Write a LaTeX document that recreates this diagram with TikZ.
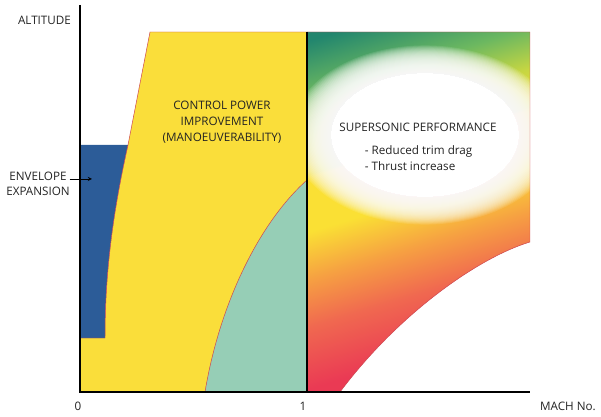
\documentclass[tikz,border=0pt]{standalone}
\usepackage{fontspec}
\setmainfont{Open Sans}

\definecolor{envblue}{RGB}{44,92,152}
\definecolor{ctrlyellow}{RGB}{250,222,58}
\definecolor{transteal}{RGB}{150,206,182}
\definecolor{edgered}{RGB}{205,70,80}
\definecolor{ssred}{RGB}{234,58,84}
\definecolor{sscoral}{RGB}{240,104,80}
\definecolor{ssorange}{RGB}{246,160,66}
\definecolor{ssyellow}{RGB}{250,224,52}
\definecolor{sslime}{RGB}{198,214,66}
\definecolor{ssgreen}{RGB}{108,184,96}
\definecolor{ssteal}{RGB}{34,134,110}
\definecolor{labelgray}{RGB}{35,35,35}

\pgfdeclareverticalshading{supershade}{100bp}{color(0bp)=(ssred); color(29bp)=(ssred);
  color(38bp)=(sscoral); color(45bp)=(ssorange); color(52bp)=(ssyellow); color(60bp)=(ssyellow);
  color(66bp)=(sslime); color(72bp)=(ssgreen); color(80bp)=(ssteal); color(100bp)=(ssteal)}

\begin{document}
\begin{tikzpicture}[x=.25mm,y=.25mm,line width=.35pt,font=\fontsize{8.3}{11.3}\selectfont,text=labelgray]
\useasboundingbox (-80,-24) rectangle (521,392);
\fill[ctrlyellow] (0,0)--(0,54)--(25,54) .. controls (25,120) and (33,180) .. (48,247)--(70,360)--(227,360)--(227,0)--cycle;
\fill[envblue] (0,54)--(25,54) .. controls (25,120) and (33,180) .. (48,247)--(0,247)--cycle;
\draw[edgered] (0,54)--(25,54) .. controls (25,120) and (33,180) .. (48,247)--(70,360)--(227,360);
\filldraw[fill=transteal,draw=edgered] (125,0) .. controls (140,90) and (180,170) .. (227,212)--(227,0)--cycle;
\begin{scope}
\clip (227,0)--(260,0) .. controls (320,80) and (400,135) .. (450,150)--(450,360)--(227,360)--cycle;
\shade[shading=supershade,shading angle=17] (227,0) rectangle (450,360);
\fill[white] (345,257) ellipse [x radius=94,y radius=62];
\foreach \s in {0,...,29}
  \fill[white,opacity=.11] (345,257) ellipse [x radius={94+1.4*\s},y radius={62+.95*\s}];
\end{scope}
\draw[edgered] (260,0) .. controls (320,80) and (400,135) .. (450,150)--(450,360)--(227,360);
\draw[line width=1pt] (227,0)--(227,360);
\draw[line width=1pt] (0,387)--(0,0)--(450,0);
\node[anchor=east,inner sep=2pt] (altitude) at (-6,372) {ALTITUDE};
\node[inner sep=2pt] (envelope) at (-42,216) {ENVELOPE};
\node[inner sep=2pt] (expansion) at (-42,201) {EXPANSION};
\coordinate (envtip) at (12,213);
\draw[-stealth] (envelope.east |- envtip)--(envtip);
\node[inner sep=2pt] (zero) at (-2,-14) {0};
\node[inner sep=2pt] (one) at (223,-14) {1};
\node[inner sep=2pt] (mach) at (488,-14) {MACH No.};
\node[align=center] (control) at (142,270) {CONTROL POWER\\IMPROVEMENT\\(MANOEUVERABILITY)};
\node (superson) at (338,265) {SUPERSONIC PERFORMANCE};
\node[align=left,anchor=west] (gains) at (280,234) {- Reduced trim drag\\- Thrust increase};
\end{tikzpicture}
\end{document}
